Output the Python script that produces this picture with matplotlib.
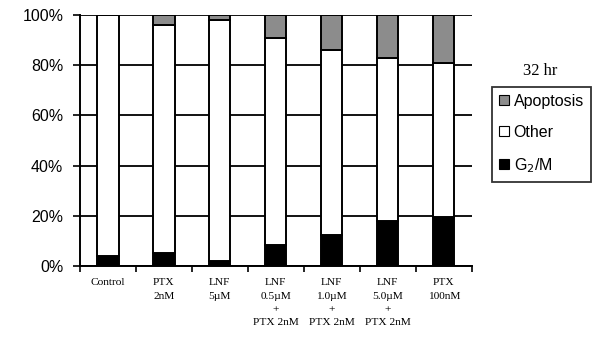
"""
Cell-cycle distribution at 32 hr — stacked percentage bars.

Each treatment bar stacks G2/M (black), Other (white) and Apoptosis (grey)
to 100%.
"""

import matplotlib.pyplot as plt
import numpy as np
from matplotlib.patches import Patch

plt.rcParams["font.family"] = ["Liberation Sans", "DejaVu Sans"]

CATEGORIES = [
    "Control",
    "PTX\n2nM",
    "LNF\n5\u00b5M",
    "LNF\n0.5\u00b5M\n+\nPTX 2nM",
    "LNF\n1.0\u00b5M\n+\nPTX 2nM",
    "LNF\n5.0\u00b5M\n+\nPTX 2nM",
    "PTX\n100nM",
]
G2M = [4, 5, 2, 8.5, 12.5, 18, 19.5]
APOPTOSIS = [0, 4, 2, 9, 14, 17, 19]
OTHER = [100 - g - a for g, a in zip(G2M, APOPTOSIS)]

Y_TICKS = [0, 20, 40, 60, 80, 100]

COLOR_G2M = "#000000"
COLOR_OTHER = "#ffffff"
COLOR_APOP = "#8c8c8c"
SERIF = ["Liberation Serif", "DejaVu Serif"]


def main() -> None:
    fig = plt.figure(figsize=(6.15, 3.44), dpi=100)
    ax = fig.add_axes([0.130, 0.227, 0.637, 0.729])

    x = np.arange(len(CATEGORIES))
    width = 0.38
    bar_kw = dict(width=width, edgecolor="black", linewidth=1.4, zorder=3)

    ax.bar(x, G2M, color=COLOR_G2M, **bar_kw)
    ax.bar(x, OTHER, bottom=G2M, color=COLOR_OTHER, **bar_kw)
    bottoms = [g + o for g, o in zip(G2M, OTHER)]
    ax.bar(x, APOPTOSIS, bottom=bottoms, color=COLOR_APOP, **bar_kw)

    ax.set_xlim(-0.5, len(CATEGORIES) - 0.5)
    ax.set_ylim(0, 100)

    # solid horizontal gridlines behind the bars
    ax.set_yticks(Y_TICKS)
    ax.set_yticklabels([f"{v}%" for v in Y_TICKS], fontsize=11.5)
    ax.yaxis.grid(True, color="black", linewidth=1.3, zorder=0)
    ax.set_axisbelow(True)

    # category ticks sit on the boundaries between groups
    ax.set_xticks(np.arange(len(CATEGORIES) + 1) - 0.5)
    ax.set_xticklabels([])
    ax.set_xticks(x, minor=True)
    ax.set_xticklabels(CATEGORIES, minor=True, fontsize=8.2, family=SERIF,
                       linespacing=1.6, va="top")
    ax.tick_params(axis="x", which="minor", length=0, pad=9)
    ax.tick_params(axis="x", which="major", length=4, width=1.2,
                   direction="out")
    ax.tick_params(axis="y", length=5, width=1.2, direction="out", pad=7)

    ax.spines["right"].set_visible(False)
    ax.spines["top"].set_visible(False)
    for side in ("left", "bottom"):
        ax.spines[side].set_linewidth(1.4)

    fig.text(0.878, 0.795, "32 hr", ha="center", va="center", fontsize=12,
             family=SERIF)
    handles = [
        Patch(facecolor=COLOR_APOP, edgecolor="black", linewidth=0.8,
              label="Apoptosis"),
        Patch(facecolor=COLOR_OTHER, edgecolor="black", linewidth=0.8,
              label="Other"),
        Patch(facecolor=COLOR_G2M, edgecolor="black", linewidth=0.8,
              label="G$_2$/M"),
    ]
    leg = fig.legend(handles=handles, loc="upper left",
                     bbox_to_anchor=(0.800, 0.748), fontsize=11.5,
                     frameon=True, fancybox=False, handlelength=0.6,
                     handleheight=0.6, handletextpad=0.3, borderpad=0.45,
                     labelspacing=1.0, borderaxespad=0)
    leg.get_frame().set_edgecolor("black")
    leg.get_frame().set_linewidth(1.3)

    fig.savefig("out.png", dpi=100, facecolor="white")
    plt.close(fig)


if __name__ == "__main__":
    main()
